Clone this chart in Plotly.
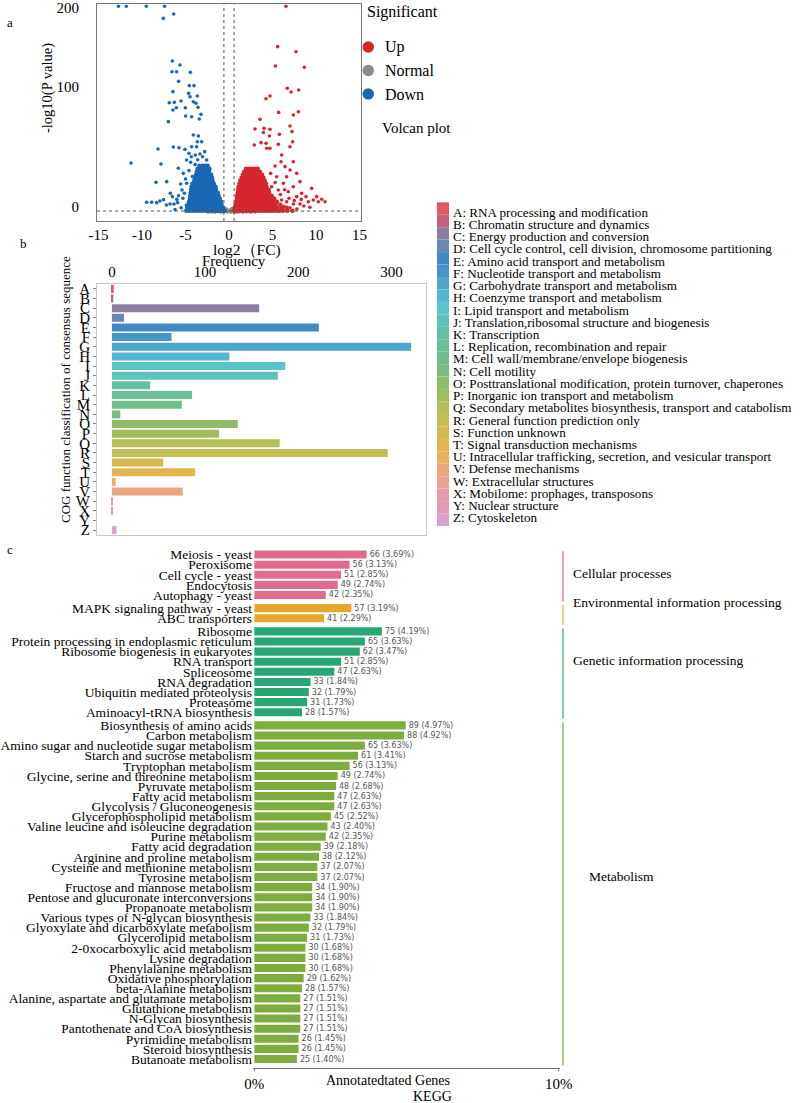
import plotly.graph_objects as go

W, H = 800, 1103
SERIF = "Liberation Serif"

# ------------------------------------------------------------------ a: volcano
# scattered significant points (log2FC, -log10 P)
down_pts = [(-7.55, 161.9), (-6.36, 165.5), (-6.51, 126.3), (-5.63, 123.0), (-6.55, 117.4),
            (-6.02, 117.4), (-4.44, 116.9), (-5.79, 109.4), (-6.44, 100.8), (-4.56, 105.8),
            (-4.02, 105.8), (-4.64, 99.4), (-4.48, 96.6), (-3.64, 97.2), (-6.86, 91.6),
            (-6.28, 91.9), (-5.52, 93.0), (-4.10, 92.4), (-3.79, 91.1), (-6.44, 85.5),
            (-6.05, 87.4), (-5.02, 87.4), (-3.56, 87.7), (-4.98, 80.5), (-4.29, 79.9),
            (-3.22, 81.9), (-3.41, 78.0), (-6.97, 75.8), (-4.10, 64.7), (-3.52, 63.8),
            (-3.64, 59.1), (-3.14, 59.1), (-8.16, 53.0), (-6.40, 54.7), (-5.75, 54.1),
            (-5.06, 52.7), (-4.29, 54.9), (-7.82, 40.5), (-11.26, 41.3), (-8.39, 25.2),
            (-7.16, 25.8), (-9.46, 8.6), (-8.89, 8.6), (-8.31, 8.3), (-7.93, 9.7),
            (-7.51, 10.8), (-6.74, 16.1), (-6.51, 13.3), (-7.20, 6.3), (-6.78, 7.2),
            (-6.32, 7.2), (-5.90, 8.3), (-5.40, 18.8), (-5.13, 16.1), (-5.56, 23.8),
            (-4.87, 24.4), (-5.82, 36.9), (-5.25, 32.7), (-4.87, 43.8), (-4.60, 49.4),
            (-4.33, 46.6), (-3.87, 48.0), (-3.72, 54.9), (-3.33, 48.8), (-3.03, 46.6),
            (-2.80, 50.8), (-2.57, 43.8), (-4.6, 35.0), (-4.2, 30.0), (-5.0, 28.0),
            (-3.9, 40.0), (-4.4, 42.0), (-3.6, 44.0), (-5.3, 12.0), (-6.0, 11.0),
            (-4.9, 6.0), (-5.5, 4.0), (-6.2, 2.5), (-5.8, 14.0),
            (-12.7, 172.0), (-11.8, 172.0), (-9.5, 172.0), (-7.4, 172.0)]
# dense part of the "Down" cloud: rows of (-log10 P, [log2FC ...])
down_rows = [
    (1.5, [-4.9, -4.55, -4.2, -3.85, -3.5, -3.15, -2.8, -2.45, -2.1, -1.75, -1.4, -1.05, -0.75, -0.5]),
    (4.0, [-4.8, -4.45, -4.1, -3.75, -3.4, -3.05, -2.7, -2.35, -2.0, -1.65, -1.3, -0.95, -0.65]),
    (6.5, [-4.7, -4.35, -4.0, -3.65, -3.3, -2.95, -2.6, -2.25, -1.9, -1.55, -1.2, -0.85]),
    (9.0, [-4.6, -4.25, -3.9, -3.55, -3.2, -2.85, -2.5, -2.15, -1.8, -1.45, -1.1, -0.9]),
    (11.5, [-4.5, -4.15, -3.8, -3.45, -3.1, -2.75, -2.4, -2.05, -1.7, -1.35, -1.05]),
    (14.0, [-4.45, -4.1, -3.75, -3.4, -3.05, -2.7, -2.35, -2.0, -1.65, -1.2]),
    (16.5, [-4.4, -4.05, -3.7, -3.35, -3.0, -2.65, -2.3, -1.95, -1.6, -1.3]),
    (19.0, [-4.35, -4.0, -3.65, -3.3, -2.95, -2.6, -2.25, -1.9, -1.5]),
    (21.5, [-4.3, -3.95, -3.6, -3.25, -2.9, -2.55, -2.2, -1.85, -1.55]),
    (24.0, [-4.2, -3.85, -3.5, -3.15, -2.8, -2.45, -2.1, -1.75]),
    (26.5, [-4.0, -3.65, -3.3, -2.95, -2.6, -2.25, -1.9]),
    (29.0, [-3.9, -3.55, -3.2, -2.85, -2.5, -2.15, -1.95]),
    (31.5, [-3.8, -3.45, -3.1, -2.75, -2.4, -2.05]),
    (34.0, [-3.7, -3.35, -3.0, -2.65, -2.3]),
    (36.5, [-3.6, -3.25, -2.9, -2.55, -2.25]),
    (39.0, [-3.4, -3.05, -2.7, -2.45]),
]
up_pts = [(5.59, 138.3), (7.70, 134.1), (8.66, 121.1), (5.33, 122.2), (6.70, 103.6),
          (7.13, 100.5), (8.01, 102.2), (4.25, 94.9), (4.71, 97.2), (5.71, 83.5),
          (7.39, 81.3), (7.97, 84.1), (3.56, 77.7), (2.99, 69.7), (4.02, 70.2),
          (4.71, 69.4), (3.95, 66.8), (4.64, 63.8), (5.79, 65.2), (7.01, 72.2),
          (7.24, 67.5), (2.91, 56.3), (3.68, 58.3), (4.25, 57.7), (4.33, 53.6),
          (4.71, 53.6), (5.67, 56.9), (7.32, 59.1), (7.01, 54.9), (6.05, 48.0),
          (5.98, 42.4), (7.39, 42.4), (6.44, 38.3), (7.01, 35.5), (5.29, 38.8),
          (4.79, 32.7), (5.48, 29.9), (6.63, 29.9), (7.78, 32.7), (8.16, 25.8),
          (9.50, 20.2), (7.39, 21.6), (8.35, 16.1), (8.85, 13.3), (9.69, 10.5),
          (10.27, 9.1), (10.65, 11.1), (11.03, 9.1), (10.08, 13.3), (9.12, 9.1),
          (8.16, 7.2), (7.39, 7.2), (6.63, 9.1), (6.05, 10.5), (5.10, 11.9),
          (5.67, 18.8), (4.90, 21.6), (6.25, 24.4), (6.82, 17.4), (7.78, 13.3),
          (6.3, 5.0), (7.0, 4.0), (7.8, 3.0), (8.6, 5.5), (9.3, 4.5), (6.9, 12.0),
          (7.5, 10.0), (5.9, 15.0), (6.4, 19.0), (5.3, 25.0), (8.3, 11.0),
          (6.55, 172.0)]
up_rows = [
    (1.5, [0.55, 0.9, 1.25, 1.6, 1.95, 2.3, 2.65, 3.0, 3.35, 3.7, 4.05, 4.4, 4.75, 5.1, 5.45, 5.8, 6.2, 6.7, 7.3]),
    (4.0, [0.65, 1.0, 1.35, 1.7, 2.05, 2.4, 2.75, 3.1, 3.45, 3.8, 4.15, 4.5, 4.85, 5.2, 5.6, 6.1, 6.6]),
    (6.5, [0.75, 1.1, 1.45, 1.8, 2.15, 2.5, 2.85, 3.2, 3.55, 3.9, 4.25, 4.6, 4.95, 5.35, 5.9]),
    (9.0, [0.85, 1.2, 1.55, 1.9, 2.25, 2.6, 2.95, 3.3, 3.65, 4.0, 4.35, 4.7, 5.05, 5.5]),
    (11.5, [0.9, 1.25, 1.6, 1.95, 2.3, 2.65, 3.0, 3.35, 3.7, 4.05, 4.4, 4.75, 5.2]),
    (14.0, [0.95, 1.3, 1.65, 2.0, 2.35, 2.7, 3.05, 3.4, 3.75, 4.1, 4.45, 4.9]),
    (16.5, [1.0, 1.35, 1.7, 2.05, 2.4, 2.75, 3.1, 3.45, 3.8, 4.15, 4.6]),
    (19.0, [1.05, 1.4, 1.75, 2.1, 2.45, 2.8, 3.15, 3.5, 3.85, 4.2, 4.55]),
    (21.5, [1.1, 1.45, 1.8, 2.15, 2.5, 2.85, 3.2, 3.55, 3.9, 4.3]),
    (24.0, [1.2, 1.55, 1.9, 2.25, 2.6, 2.95, 3.3, 3.65, 4.0, 4.25]),
    (26.5, [1.3, 1.65, 2.0, 2.35, 2.7, 3.05, 3.4, 3.75, 4.1]),
    (29.0, [1.45, 1.8, 2.15, 2.5, 2.85, 3.2, 3.55, 3.95]),
    (31.5, [1.6, 1.95, 2.3, 2.65, 3.0, 3.35, 3.8]),
    (34.0, [1.75, 2.1, 2.45, 2.8, 3.15, 3.55]),
    (36.5, [1.95, 2.3, 2.65, 3.0, 3.3]),
]
normal_pts = [(-2.4, 0.4), (-2.0, 0.6), (-1.6, 0.3), (-1.2, 0.7), (-0.9, 0.4), (-0.6, 0.8),
              (-0.4, 1.8), (-0.2, 0.5), (0.0, 1.2), (0.2, 0.4), (0.4, 1.9), (0.6, 0.6),
              (0.9, 0.3), (1.2, 0.7), (1.6, 0.4), (2.0, 0.6), (2.5, 0.3), (3.0, 0.5),
              (-0.3, 3.0), (0.3, 3.2), (-0.5, 2.6), (0.5, 2.8), (-0.1, 2.0), (0.1, 2.2)]
fc_cut = 0.585
p_cut = 1.3
volcano_ticks = ["-15", "-10", "-5", "0", "5", "10", "15"]
sig_names = ["Up", "Normal", "Down"]
sig_colors = ["#d7262e", "#8a8a8a", "#1a68b2"]

# ------------------------------------------------------------------ b: COG
cog_letters = list("ABCDEFGHIJKLMNOPQRSTUVWXYZ")
cog_counts = [2, 1.5, 158, 13, 222, 64, 321, 126, 186, 178, 41, 86, 75, 9, 135,
              115, 180, 296, 55, 89, 4, 76, 1, 1, 0, 5]
cog_desc = [
    "RNA processing and modification",
    "Chromatin structure and dynamics",
    "Energy production and conversion",
    "Cell cycle control, cell division, chromosome partitioning",
    "Amino acid transport and metabolism",
    "Nucleotide transport and metabolism",
    "Carbohydrate transport and metabolism",
    "Coenzyme transport and metabolism",
    "Lipid transport and metabolism",
    "Translation,ribosomal structure and biogenesis",
    "Transcription",
    "Replication, recombination and repair",
    "Cell wall/membrane/envelope biogenesis",
    "Cell motility",
    "Posttranslational modification, protein turnover, chaperones",
    "Inorganic ion transport and metabolism",
    "Secondary metabolites biosynthesis, transport and catabolism",
    "General function prediction only",
    "Function unknown",
    "Signal transduction mechanisms",
    "Intracellular trafficking, secretion, and vesicular transport",
    "Defense mechanisms",
    "Extracellular structures",
    "Mobilome: prophages, transposons",
    "Nuclear structure",
    "Cytoskeleton",
]
cog_colors = ["#e05a60", "#c2637c", "#8e7c9e", "#6a87b2", "#3f8ac4", "#4594c8",
              "#4ea5cd", "#55b5d2", "#5bc3ca", "#5ec2bb", "#63c0a7", "#69bf98",
              "#6ebd8b", "#7dbd7c", "#8dbd6a", "#a0bd5e", "#b4bf58", "#c4bf55",
              "#d4b850", "#e3b552", "#eab062", "#eba67f", "#eba196", "#e89aa9",
              "#e39ab9", "#d9a1c9"]
cog_ticks = [0, 100, 200, 300]

# ------------------------------------------------------------------ c: KEGG
kegg_groups = ["Cellular processes", "Environmental information processing",
               "Genetic information processing", "Metabolism"]
kegg_group_sizes = [5, 2, 9, 34]
kegg_group_bar_colors = ["#e06b8c", "#e6a62c", "#28a775", "#7cad3e"]
kegg_group_line_colors = ["#f2a3b8", "#f4c98a", "#7fcfa9", "#a9d282"]
kegg_names = [
    "Meiosis - yeast", "Peroxisome", "Cell cycle - yeast", "Endocytosis", "Autophagy - yeast",
    "MAPK signaling pathway - yeast", "ABC transporters",
    "Ribosome", "Protein processing in endoplasmic reticulum", "Ribosome biogenesis in eukaryotes",
    "RNA transport", "Spliceosome", "RNA degradation", "Ubiquitin mediated proteolysis",
    "Proteasome", "Aminoacyl-tRNA biosynthesis",
    "Biosynthesis of amino acids", "Carbon metabolism", "Amino sugar and nucleotide sugar metabolism",
    "Starch and sucrose metabolism", "Tryptophan metabolism", "Glycine, serine and threonine metabolism",
    "Pyruvate metabolism", "Fatty acid metabolism", "Glycolysis / Gluconeogenesis",
    "Glycerophospholipid metabolism", "Valine leucine and isoleucine degradation", "Purine metabolism",
    "Fatty acid degradation", "Arginine and proline metabolism", "Cysteine and methionine metabolism",
    "Tyrosine metabolism", "Fructose and mannose metabolism", "Pentose and glucuronate interconversions",
    "Propanoate metabolism", "Various types of N-glycan biosynthesis", "Glyoxylate and dicarboxylate metabolism",
    "Glycerolipid metabolism", "2-0xocarboxylic acid metabolism", "Lysine degradation",
    "Phenylalanine metabolism", "Oxidative phosphorylation", "beta-Alanine metabolism",
    "Alanine, aspartate and glutamate metabolism", "Glutathione metabolism", "N-Glycan biosynthesis",
    "Pantothenate and CoA biosynthesis", "Pyrimidine metabolism", "Steroid biosynthesis",
    "Butanoate metabolism",
]
kegg_counts = [66, 56, 51, 49, 42, 57, 41, 75, 65, 62, 51, 47, 33, 32, 31, 28,
               89, 88, 65, 61, 56, 49, 48, 47, 47, 45, 43, 42, 39, 38, 37, 37, 34, 34, 34,
               33, 32, 31, 30, 30, 30, 29, 28, 27, 27, 27, 27, 26, 26, 25]
kegg_pcts = ["3.69", "3.13", "2.85", "2.74", "2.35", "3.19", "2.29", "4.19", "3.63", "3.47",
             "2.85", "2.63", "1.84", "1.79", "1.73", "1.57", "4.97", "4.92", "3.63", "3.41",
             "3.13", "2.74", "2.68", "2.63", "2.63", "2.52", "2.40", "2.35", "2.18", "2.12",
             "2.07", "2.07", "1.90", "1.90", "1.90", "1.84", "1.79", "1.73", "1.68", "1.68",
             "1.68", "1.62", "1.57", "1.51", "1.51", "1.51", "1.51", "1.45", "1.45", "1.40"]
kegg_total = 1790   # 10% tick = 179 genes
kegg_ticks = ["0%", "10%"]


def px(x):
    return x / W


def py(y):
    return 1 - y / H


fig = go.Figure()

# ---------------- volcano traces
nx = [p[0] for p in normal_pts]
ny = [p[1] for p in normal_pts]
d_sx = [p[0] for p in down_pts]
d_sy = [p[1] for p in down_pts]
d_dx = [x for yv, xs in down_rows for x in xs]
d_dy = [yv for yv, xs in down_rows for x in xs]
u_sx = [p[0] for p in up_pts]
u_sy = [p[1] for p in up_pts]
u_dx = [x for yv, xs in up_rows for x in xs]
u_dy = [yv for yv, xs in up_rows for x in xs]
for xs, ys, c, s in [(nx, ny, sig_colors[1], 3.6),
                     (d_dx, d_dy, sig_colors[2], 4.6), (d_sx, d_sy, sig_colors[2], 3.6),
                     (u_dx, u_dy, sig_colors[0], 4.6), (u_sx, u_sy, sig_colors[0], 3.6)]:
    fig.add_trace(go.Scatter(x=xs, y=ys, mode="markers", xaxis="x", yaxis="y",
                             marker=dict(size=s, color=c, line=dict(width=0)),
                             showlegend=False, cliponaxis=True))

# ---------------- COG bars
fig.add_trace(go.Bar(x=cog_counts, y=cog_letters, orientation="h", xaxis="x2", yaxis="y2",
                     marker=dict(color=cog_colors, line=dict(width=0)), showlegend=False))

# ---------------- KEGG bars
kegg_pos, kegg_cols, grp_ranges = [], [], []
pos = 0.0
for gi, n in enumerate(kegg_group_sizes):
    start = pos
    for i in range(n):
        kegg_pos.append(pos)
        kegg_cols.append(kegg_group_bar_colors[gi])
        pos += 1
    grp_ranges.append((start, pos - 1))
    pos += 0.3
kegg_text = [f"{c} ({p}%)" for c, p in zip(kegg_counts, kegg_pcts)]
fig.add_trace(go.Bar(x=kegg_counts, y=kegg_pos, orientation="h", xaxis="x3", yaxis="y3",
                     width=0.8, marker=dict(color=kegg_cols, line=dict(width=0)),
                     text=kegg_text, textposition="outside", constraintext="none",
                     textfont=dict(family="DejaVu Sans", size=8, color="#555555"),
                     cliponaxis=False, showlegend=False))

shapes = []
annotations = []

# volcano threshold lines
shapes.append(dict(type="line", xref="x", yref="y", x0=-15.17, x1=15.17, y0=p_cut, y1=p_cut,
                   line=dict(color="#555555", width=1, dash="dot")))
for v in (-fc_cut, fc_cut):
    shapes.append(dict(type="line", xref="x", yref="y", x0=v, x1=v, y0=-7, y1=173.6,
                       line=dict(color="#555555", width=1, dash="dot")))


def txt(x, y, s, size=15, angle=0, xanchor="center"):
    annotations.append(dict(x=px(x), y=py(y), xref="paper", yref="paper", text=s,
                            showarrow=False, xanchor=xanchor, yanchor="middle",
                            textangle=angle, font=dict(family=SERIF, size=size, color="black")))


# volcano legend
txt(365, 12, "Significant", 16, xanchor="left")
for i, (nm, c) in enumerate(zip(sig_names, sig_colors)):
    cy = 47 + i * 23.5
    shapes.append(dict(type="circle", xref="paper", yref="paper",
                       x0=px(362.5), x1=px(374), y0=py(cy + 5.75), y1=py(cy - 5.75),
                       fillcolor=c, line=dict(width=0)))
    txt(383, cy, nm, 16, xanchor="left")
txt(380, 128, "Volcan plot", 15, xanchor="left")

# titles
txt(10, 23, "a", 13)
txt(23, 243, "b", 13)
txt(10, 549, "c", 13)
txt(47, 88, "-log10(P value)", 14.5, -90)
txt(247, 250, "log2（FC)", 15.5)
txt(234, 261, "Frequency", 15)
txt(65, 390, "COG function classification of consensus sequence", 13, -90)
txt(388, 1080, "Annotatedtated Genes", 14)
txt(432, 1096, "KEGG", 14)

# COG legend
seg = 12.45
for i, (l, d, c) in enumerate(zip(cog_letters, cog_desc, cog_colors)):
    shapes.append(dict(type="rect", xref="paper", yref="paper",
                       x0=px(437), x1=px(449), y0=py(202.3 + (i + 1) * seg), y1=py(202.3 + i * seg),
                       fillcolor=c, line=dict(width=0)))
    txt(451, 212.3 + i * 12.22, f"{l}: {d}", 13.1, xanchor="left")

# KEGG group lines and labels
label_y = [573, 602.7, 660, 876]
label_x = [571, 571, 571, 587]
for gi, (a, b) in enumerate(grp_ranges):
    shapes.append(dict(type="line", xref="paper", yref="y3", x0=px(563), x1=px(563),
                       y0=a - 0.32, y1=b + 0.65,
                       line=dict(color=kegg_group_line_colors[gi], width=2)))
    txt(label_x[gi], label_y[gi], kegg_groups[gi], 13.5, xanchor="left")

fig.update_layout(
    width=W, height=H, margin=dict(l=0, r=0, t=0, b=0, autoexpand=False),
    paper_bgcolor="white", plot_bgcolor="white",
    font=dict(family=SERIF, color="black"),
    bargap=0.17,
    shapes=shapes, annotations=annotations,
    xaxis=dict(domain=[px(97), px(361)], anchor="y", range=[-15.17, 15.17], automargin=False,
               tickvals=[-15, -10, -5, 0, 5, 10, 15], ticktext=volcano_ticks,
               showline=True, mirror=True, linecolor="#777777", linewidth=1,
               showgrid=False, zeroline=False, ticks="", tickfont=dict(size=15)),
    yaxis=dict(domain=[py(221), py(4.3)], anchor="x", range=[-7, 173.6], automargin=False,
               tickvals=[170.5, 104.7, 4.7], ticktext=["200", "100", "0"],
               showline=True, mirror=True, linecolor="#777777", linewidth=1,
               showgrid=False, zeroline=False, ticks="", ticklabelstandoff=14,
               tickfont=dict(size=15)),
    xaxis2=dict(domain=[px(97), px(426)], anchor="y2", side="top", range=[-16, 337],
                automargin=False, tickvals=cog_ticks, showline=True, mirror=True,
                linecolor="#c8c8c8", showgrid=False, zeroline=False, ticks="",
                tickfont=dict(size=15)),
    yaxis2=dict(domain=[py(535), py(284)], anchor="x2", autorange="reversed", automargin=False,
                categoryorder="array", categoryarray=cog_letters,
                tickmode="linear", dtick=1, tick0=0,
                showline=True, mirror=True, linecolor="#c8c8c8", showgrid=False,
                ticks="outside", ticklen=3, tickcolor="#888888", tickfont=dict(size=15)),
    xaxis3=dict(domain=[px(253), px(560)], anchor="y3", range=[-0.8, 179.7], automargin=False,
                tickvals=[0, kegg_total / 10], ticktext=kegg_ticks,
                showline=True, linecolor="#777777", showgrid=False, zeroline=False,
                ticks="outside", ticklen=2, tickcolor="#777777", tickfont=dict(size=15)),
    yaxis3=dict(domain=[py(1067.7), py(549)], anchor="x3", range=[50.76, -0.55], automargin=False,
                tickvals=kegg_pos, ticktext=kegg_names, showline=False, showgrid=False,
                zeroline=False, ticks="", tickfont=dict(size=13.5)),
)

fig.write_html("out.html")
